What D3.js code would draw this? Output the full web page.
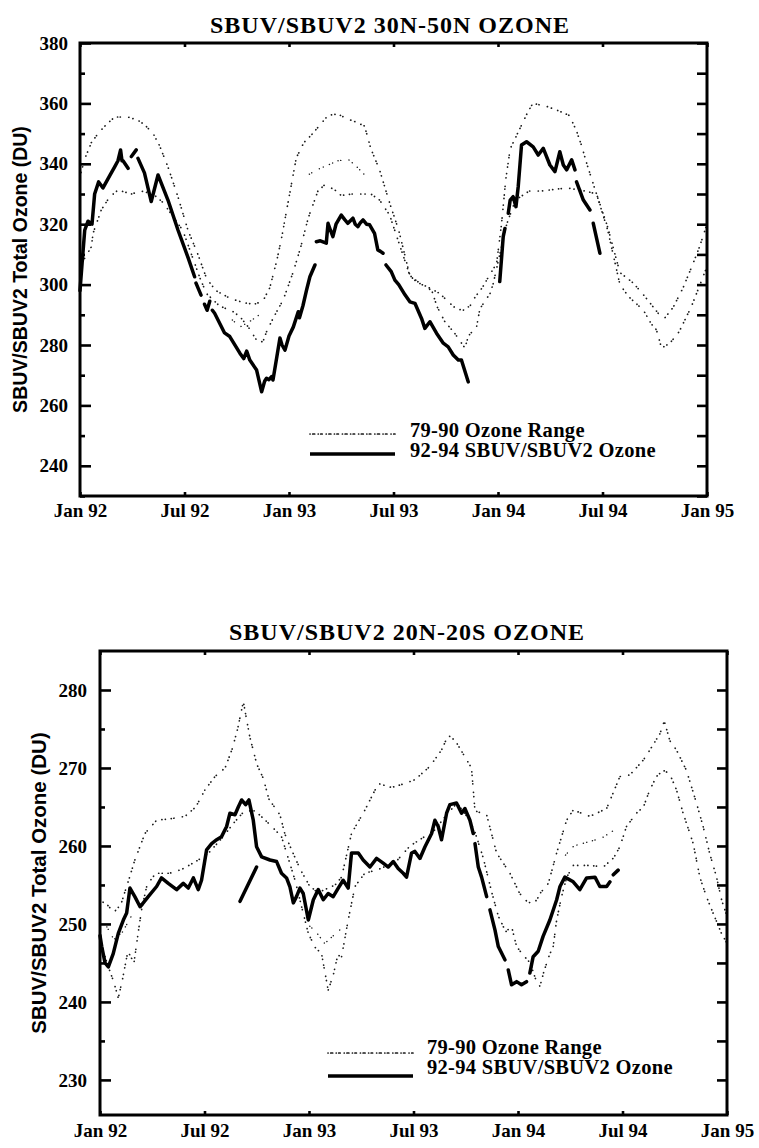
<!DOCTYPE html>
<html>
<head>
<meta charset="utf-8">
<script src="https://cdn.jsdelivr.net/npm/d3@7"></script>
<style>
  body { margin: 0; background: #fff; }
  text { fill: #000; }
</style>
</head>
<body>
<svg id="chart" width="759" height="1148"></svg>
<script>
// months since Jan 1992
const monthTicks = [0, 6, 12, 18, 24, 30, 36];
const monthLabels = ["Jan 92", "Jul 92", "Jan 93", "Jul 93", "Jan 94", "Jul 94", "Jan 95"];

// ---- 30N-50N ----
const northOzone = [
  [0,298],[0.12,307],[0.27,318],[0.46,321],[0.69,320],[0.84,330],[1.07,334],[1.32,332],[1.7,336],[1.99,339],[2.18,341],[2.33,344.6],[2.41,341],
  null,
  [2.47,341],[2.76,338.5],
  null,
  [2.95,342.4],[3.23,344.6],
  null,
  [3.33,341.8],[3.7,337],[4.09,327.5],[4.48,336.3],[5.05,328],[5.63,318],[6.2,309],[6.58,302.6],
  null,
  [6.66,300.5],[6.95,296.5],
  null,
  [7.15,293.5],[7.3,291.5],[7.45,294.5],
  null,
  [7.6,291.5],[7.73,290.5],[8.3,284],[8.6,282.8],[9.18,277.3],[9.4,275.5],[9.57,278],[9.75,275],[10.14,271.7],[10.43,264.5],[10.6,268],[10.71,269],[10.85,268.5],[11.0,269.5],[11.08,268.4],[11.3,276],[11.48,282.3],[11.6,280],[11.77,278.3],[12.0,283],[12.25,286],[12.53,291],
  null,
  [12.6,289],[12.8,293],[13.0,298],[13.2,302.6],[13.49,306.5],
  null,
  [13.57,314.2],[13.8,314.5],[14.14,313.7],[14.24,320.3],[14.38,318],[14.52,315.9],[14.7,320],[15.0,323],[15.2,321.5],[15.38,320.3],[15.67,322],[15.8,320],[15.96,319.2],[16.1,320.5],[16.25,321.4],[16.45,320],[16.63,319.8],[16.91,317],[17.1,311.5],[17.25,311],[17.4,310.4],
  null,
  [17.57,306.5],[17.87,304.3],[18.08,301.5],[18.3,300],[18.66,296.6],[18.94,294.3],[19.23,293.8],[19.61,288.8],[19.8,285.5],[20.09,287.7],[20.47,283.9],[20.86,280.6],[21.14,279.4],[21.43,276.7],[21.72,275],[21.9,275],[22.29,267.8],
  null,
  [24.1,301],[24.3,315.9],[24.4,318.6],
  null,
  [24.59,323.6],[24.7,328],[24.87,329.1],[25.03,325.8],[25.16,332.4],[25.35,346.2],[25.64,347.3],[26.02,345.6],[26.31,342.9],[26.6,345.1],[26.98,339.6],[27.27,337.4],[27.55,344],[27.75,339.6],[27.94,338],[28.23,341.3],[28.42,338],
  null,
  [28.51,334],[28.9,328],[29.28,324.7],
  null,
  [29.47,320.3],[29.85,310.4]
];
const northRangeHi = [
  [0,336],[0.3,342],[0.65,347],[1.1,350.5],[1.6,353.5],[2.0,355.5],[2.75,355.5],[3.3,354.5],[3.7,353],[4.2,350],[4.57,346],[5.05,339],[5.63,329],[6.2,318],[6.77,310],[7.27,302],[7.8,298],[8.6,295.5],[9.4,294],[10.0,293.5],[10.5,294.5],[10.9,299],[11.3,308],[11.56,315],[11.94,327],[12.42,342],[12.85,347],[13.28,349.5],[13.8,353],[14.24,356],[14.8,356.5],[15.3,355],[15.77,354],[16.34,352.5],[16.7,345],[17.2,338],[17.78,327],[18.3,318],[18.94,303],[19.5,300.5],[20.2,298.5],[20.67,297],[21.2,294],[21.6,292],[22.0,291.5],[22.4,293],[22.7,296],[23.1,299],[23.5,303],[23.92,307],[24.2,320],[24.45,335],[24.7,345],[25.2,351],[25.7,357],[26.0,360],[26.8,359],[27.5,357.5],[28.1,356],[28.5,351],[28.8,346],[29.1,340],[29.6,331],[30.3,319],[31.0,304],[31.77,300.5],[32.3,297],[32.72,294],[33.2,290.5],[33.58,289],[34.06,292.5],[34.63,299],[35.2,307],[35.6,313],[36,320]
];
const northRangeLo = [
  [0,306],[0.65,312.5],[0.75,317],[1.22,324.7],[1.7,329],[2.18,331.3],[2.95,330],[3.5,331],[4.2,330],[4.8,327],[5.4,322],[5.9,318],[6.4,310],[6.9,302],[7.27,297],[8.0,293],[8.8,291],[9.18,289.4],[9.66,286],[10.14,281.6],[10.5,281],[10.71,284.4],[11.1,289],[11.67,295],[12.25,304.3],[12.7,313],[13.1,322],[13.66,331],[14.04,333],[14.6,331.5],[15.0,329.5],[15.6,330],[16.2,330],[16.7,330],[17.2,328],[17.78,323],[18.3,314],[18.94,303],[19.3,301],[19.8,299.5],[20.2,298],[20.5,292.7],[20.95,287.7],[21.5,284],[22.1,279],[22.3,283],[22.77,286],[22.96,292],[23.54,297],[23.73,300.4],[24.1,310],[24.5,320],[25.0,328],[25.8,331],[26.5,331],[27.2,331.5],[28.0,332],[29.0,331],[29.66,330],[30.3,318],[31.0,300],[31.5,296],[32.34,291.6],[32.8,287],[33.1,285],[33.39,279],[33.87,280.6],[34.4,284.4],[35.1,292.7],[35.6,300],[36,306]
];
// scattered points inside the range
const northRangeMid = [
  [13.0,336],[13.6,338],[14.2,339.5],[14.8,341],[15.4,341.5],[15.9,339],[16.4,336],
  null,
  [8.6,289],[9.2,286],[9.8,288],[10.3,290]
];

// ---- 20N-20S ----
const tropicOzone = [
  [0,248.5],[0.1,247.1],[0.29,245],[0.48,244.5],[0.76,246.2],[1.05,248.8],[1.34,250.5],[1.53,251.4],[1.72,254.6],[2.0,253.5],[2.3,252.2],[2.77,253.5],[3.25,254.8],[3.53,255.9],[3.92,255.2],[4.4,254.4],[4.78,255.2],[5.07,254.6],[5.36,255.9],[5.64,254.4],[5.83,255.6],[6.12,259.5],[6.41,260.3],[6.7,260.8],[6.98,261.2],[7.27,262.5],[7.46,264.2],[7.75,264],[7.94,265],[8.13,265.9],[8.36,265.3],[8.55,265.9],[8.8,263.3],[8.99,259.9],[9.28,258.6],[9.76,258.2],[10.14,258],[10.42,256.5],[10.71,255.9],[10.9,254.8],[11.1,252.7],[11.28,253.5],[11.48,254.6],[11.67,253.9],[11.96,250.5],[12.25,253.1],[12.53,254.4],[12.82,253.1],[13.1,253.9],[13.39,253.5],[13.68,254.6],[13.96,255.6],[14.25,254.6],[14.44,259.1],[14.83,259.1],[15.11,258.2],[15.5,257.3],[15.88,258.4],[16.26,257.8],[16.55,257.3],[16.84,258],[17.12,257.1],[17.41,256.5],[17.6,256],[17.89,259.1],[18.08,259.3],[18.37,258.4],[18.66,259.9],[19.04,261.6],[19.23,263.3],[19.42,262.5],[19.61,260.8],[19.9,264.2],[20.09,265.3],[20.47,265.5],[20.76,264.2],[20.95,264.8],[21.24,263.3],[21.43,261.6],
  null,
  [21.53,260.3],[21.72,257.3],[21.91,256],[22.2,253.5],
  null,
  [22.39,251.8],[22.68,249.2],[22.87,247.1],[23.25,245.4],
  null,
  [23.44,244.1],[23.63,242.2],[23.92,242.6],[24.2,242.2],[24.49,242.6],
  null,
  [24.68,243.7],[24.87,245.8],[25.16,246.5],[25.44,248.4],[25.83,250.5],[26.22,253.1],[26.41,254.8],[26.69,256],[27.17,255.4],[27.55,254.4],[27.94,255.9],[28.42,256],[28.7,254.8],[29.09,254.8],[29.28,255.4],
  null,
  [29.47,256.3],[29.75,256.9],
  null,
  [8.04,252.9],[8.99,257.3]
];
const tropicRangeHi = [
  [0,253],[0.4,252.5],[0.8,251.5],[1.2,252.5],[1.7,256],[2.0,258.2],[2.58,261.6],[3.25,263.3],[4.1,263.5],[4.88,263.8],[5.5,265],[6.03,267.2],[6.6,268.9],[7.18,270],[7.6,272.5],[7.9,275],[8.23,278.5],[8.6,274],[9.0,270.5],[9.37,268.7],[9.7,266],[10.33,264],[10.62,261.5],[11.0,259.5],[11.5,257],[12.0,255],[12.5,254],[13.0,254.5],[13.5,255],[13.87,256],[14.44,261.6],[15.21,264.6],[15.98,268],[16.74,267.5],[17.5,268],[18.08,268.5],[18.94,270.2],[19.61,272.3],[19.99,274.2],[20.4,273.5],[20.8,272],[21.33,270],[21.53,264.5],[22.2,264],[22.77,259.1],[23.54,256.5],[24.1,253.9],[24.59,252.7],[25.06,253],[25.26,253.9],[25.74,255.2],[26.22,259.1],[26.79,263.3],[27.17,264.6],[28.13,263.8],[29.09,264.8],[29.85,268.9],[30.42,269.1],[31.19,271],[31.57,272.3],[32.15,274.4],[32.4,276],[32.72,273.5],[33.1,272.3],[33.67,269.7],[34.25,265.5],[34.63,262.5],[35.0,259.1],[35.4,256],[35.7,253],[36,251]
];
const tropicRangeLo = [
  [0,248],[0.4,245],[0.8,242.5],[1.05,240.5],[1.3,243],[1.6,246.5],[1.95,245],[2.2,249],[2.4,252],[2.7,255],[3.2,256.5],[4.0,256.5],[4.7,257],[5.5,258],[6.2,259],[7.0,261],[7.7,263],[8.3,264.5],[8.9,264.5],[9.4,263.5],[9.86,262.5],[10.42,261.2],[10.8,258.5],[11.2,255.6],[11.6,252],[11.96,248.8],[12.35,247],[12.72,246.2],[13.1,241.5],[13.4,243.5],[13.65,246],[13.87,245.8],[14.25,250.5],[14.64,254.8],[15.2,256.5],[16.0,257],[17.0,258],[17.8,260],[18.5,261],[19.2,262],[19.9,264],[20.5,265.5],[21.0,264],[21.5,262],[22.0,258.5],[22.5,254],[22.87,251],[23.3,249],[23.63,249.7],[23.92,247.1],[24.3,246],[24.7,245],[25.0,243],[25.26,242],[25.5,244],[25.8,246],[26.02,247.1],[26.22,250.5],[26.5,253.5],[26.8,256],[27.17,257.5],[28.13,257.5],[28.9,257.3],[29.5,258.5],[29.85,259.9],[30.23,262.5],[30.8,264.2],[31.2,265],[31.57,267.2],[31.95,268.9],[32.33,269.7],[32.7,269.3],[33.1,267.2],[33.48,264.2],[33.87,261.6],[34.06,260.3],[34.44,256],[34.82,253.5],[35.2,251.4],[35.68,248.8],[36,247.5]
];
const tropicRangeMid = [
  [0.3,250],[0.8,248],[1.3,249],[1.8,251],
  null,
  [11.9,250],[12.4,249],[12.9,247.5],[13.4,248.5],[13.9,249.5],
  null,
  [26.6,258.5],[27.2,260],[28.0,260.5],[28.8,261],[29.5,262]
];

const northMajor = [240, 260, 280, 300, 320, 340, 360, 380];
const northMinor = [230, 250, 270, 290, 310, 330, 350, 370];
const northRight = d3.range(230, 381, 10);
const tropicMajor = [230, 240, 250, 260, 270, 280];
const tropicMinor = [235, 245, 255, 265, 275];
const tropicRight = d3.range(230, 285, 5);

const legendLabels = ["79-90 Ozone Range", "92-94 SBUV/SBUV2 Ozone"];
const yTitle = "SBUV/SBUV2 Total Ozone (DU)";

const svg = d3.select("#chart");
const serif = "'Liberation Serif', 'Times New Roman', serif";
const sans = "'Liberation Sans', Arial, sans-serif";
// uneven dot spacing, like the photocopied original
const dotPattern = "0.1,3.4,0.1,5.8,0.1,2.6,0.1,8.5,0.1,4.2,0.1,6.6";

function drawPanel(p) {
  const x = d3.scaleLinear().domain([0, 36]).range([p.left, p.right]);
  const y = d3.scaleLinear().domain(p.domain).range([p.bottom, p.top]);
  const g = svg.append("g");

  // title
  g.append("text")
    .attr("x", p.titleX).attr("y", p.titleY)
    .attr("text-anchor", "middle")
    .style("font-family", serif).style("font-weight", "bold")
    .style("font-size", "24px").style("letter-spacing", "1px")
    .text(p.title);

  // y title
  g.append("text")
    .attr("transform", `translate(${p.yTitleX},${(p.top + p.bottom) / 2}) rotate(-90)`)
    .attr("text-anchor", "middle")
    .style("font-family", sans).style("font-weight", "bold")
    .style("font-size", p.yTitleSize + "px")
    .text(yTitle);

  const line = d3.line()
    .defined(d => d !== null)
    .x(d => x(d[0])).y(d => y(d[1]));

  // 79-90 range, drawn as dots
  [p.hi, p.lo, p.mid].forEach((series, i) => {
    g.append("path")
      .attr("d", line(series))
      .attr("fill", "none")
      .attr("stroke", "#1a1a1a")
      .attr("stroke-width", i === 2 ? 1.4 : 1.7)
      .attr("stroke-linecap", "round")
      .attr("stroke-dasharray", dotPattern)
      .attr("stroke-dashoffset", i * 3);
  });

  // 92-94 line
  g.append("path")
    .attr("d", line(p.ozone))
    .attr("fill", "none")
    .attr("stroke", "#000")
    .attr("stroke-width", 3.5)
    .attr("stroke-linejoin", "round")
    .attr("stroke-linecap", "round");

  // axes
  const tickStyle = sel => {
    sel.select(".domain").remove();
    sel.selectAll(".tick line").attr("stroke", "#000").attr("stroke-width", 2.6);
    sel.selectAll(".tick text")
      .style("font-family", serif).style("font-weight", "bold")
      .style("font-size", "19px");
  };

  g.append("g").attr("transform", `translate(${p.left},0)`)
    .call(d3.axisLeft(y).tickValues(p.major).tickSizeInner(-11).tickSizeOuter(0).tickPadding(p.yPad).tickFormat(d3.format("d")))
    .call(tickStyle);
  g.append("g").attr("transform", `translate(${p.left},0)`)
    .call(d3.axisLeft(y).tickValues(p.minor).tickSizeInner(-5).tickSizeOuter(0).tickFormat(""))
    .call(tickStyle);
  g.append("g").attr("transform", `translate(${p.right},0)`)
    .call(d3.axisRight(y).tickValues(p.rightTicks).tickSizeInner(-10).tickSizeOuter(0).tickFormat(""))
    .call(tickStyle);
  g.append("g").attr("transform", `translate(0,${p.bottom})`)
    .call(d3.axisBottom(x).tickValues(monthTicks).tickSizeInner(-4).tickSizeOuter(0).tickPadding(p.xPad)
      .tickFormat((d, i) => monthLabels[i]))
    .call(tickStyle);
  g.append("g").attr("transform", `translate(0,${p.top})`)
    .call(d3.axisTop(x).tickValues(monthTicks).tickSizeInner(-4).tickSizeOuter(0).tickFormat(""))
    .call(tickStyle);

  // frame
  g.append("rect")
    .attr("x", p.left).attr("y", p.top)
    .attr("width", p.right - p.left).attr("height", p.bottom - p.top)
    .attr("fill", "none").attr("stroke", "#000").attr("stroke-width", 3);

  // legend
  const lg = g.append("g");
  lg.append("line")
    .attr("x1", p.legX0).attr("x2", p.legX1).attr("y1", p.legY1).attr("y2", p.legY1)
    .attr("stroke", "#1a1a1a").attr("stroke-width", 1.7)
    .attr("stroke-linecap", "round").attr("stroke-dasharray", "0.1,2.6,2,3.5,0.1,2.4,1.5,4");
  lg.append("line")
    .attr("x1", p.legX0).attr("x2", p.legX1).attr("y1", p.legY2).attr("y2", p.legY2)
    .attr("stroke", "#000").attr("stroke-width", 3.5);
  lg.selectAll("text").data(legendLabels).join("text")
    .attr("x", p.legTextX)
    .attr("y", (d, i) => i === 0 ? p.legBase1 : p.legBase2)
    .style("font-family", serif).style("font-weight", "bold")
    .style("font-size", "20.5px").style("letter-spacing", "0.3px")
    .text(d => d);
}

drawPanel({
  title: "SBUV/SBUV2 30N-50N OZONE", titleX: 390, titleY: 33,
  left: 80, right: 707, top: 43, bottom: 496,
  domain: [230, 380],
  major: northMajor, minor: northMinor, rightTicks: northRight,
  ozone: northOzone, hi: northRangeHi, lo: northRangeLo, mid: northRangeMid,
  yTitleX: 27, yTitleSize: 19.5, yPad: 12, xPad: 8,
  legX0: 310, legX1: 395, legY1: 434, legY2: 454,
  legTextX: 410, legBase1: 437, legBase2: 457
});

drawPanel({
  title: "SBUV/SBUV2 20N-20S OZONE", titleX: 407, titleY: 640,
  left: 100, right: 727, top: 651, bottom: 1115,
  domain: [225.5, 285],
  major: tropicMajor, minor: tropicMinor, rightTicks: tropicRight,
  ozone: tropicOzone, hi: tropicRangeHi, lo: tropicRangeLo, mid: tropicRangeMid,
  yTitleX: 46, yTitleSize: 20.5, yPad: 13, xPad: 9,
  legX0: 328, legX1: 413, legY1: 1053, legY2: 1076,
  legTextX: 427, legBase1: 1054, legBase2: 1074
});
</script>
</body>
</html>
